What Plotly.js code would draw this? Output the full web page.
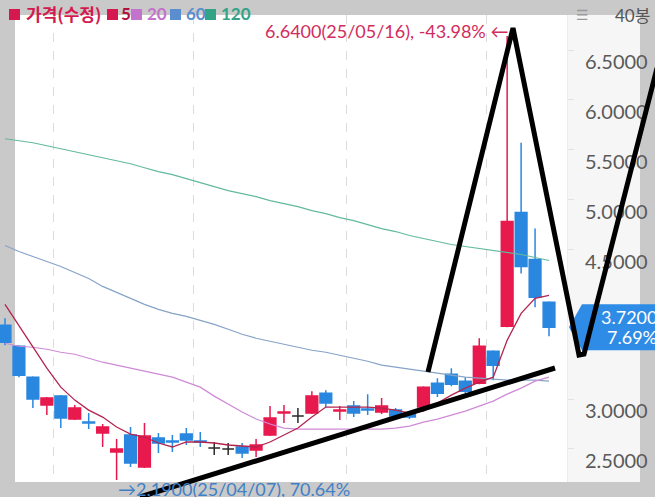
<!DOCTYPE html>
<html><head><meta charset="utf-8">
<script src="https://cdn.plot.ly/plotly-3.0.1.min.js"></script>
<style>html,body{margin:0;padding:0;background:#c9c9c9;overflow:hidden}#chart{width:655px;height:497px}</style>
</head><body><div id="chart"></div>
<script>
// ---- data ----
const dates = ['2025-03-26','2025-03-27','2025-03-28','2025-03-31','2025-04-01','2025-04-02','2025-04-03','2025-04-04','2025-04-07','2025-04-08',
  '2025-04-09','2025-04-10','2025-04-11','2025-04-14','2025-04-15','2025-04-16','2025-04-17','2025-04-21','2025-04-22','2025-04-23',
  '2025-04-24','2025-04-25','2025-04-28','2025-04-29','2025-04-30','2025-05-01','2025-05-02','2025-05-05','2025-05-06','2025-05-07',
  '2025-05-08','2025-05-09','2025-05-12','2025-05-13','2025-05-14','2025-05-15','2025-05-16','2025-05-19','2025-05-20','2025-05-21'];
const openP  = [3.74,3.53,3.22,2.94,3.03,2.80,2.77,2.66,2.47,2.64, 2.32,2.61,2.58,2.65,2.58,2.51,2.50,2.52,2.49,2.64, 2.86,2.83,2.86,3.06,2.88,2.93,2.90,2.87,2.89,2.86, 2.92,3.16,3.25,3.18,3.16,3.48,3.73,4.87,4.40,3.97];
const highP  = [3.81,3.54,3.23,3.02,3.04,2.94,2.86,2.75,2.60,2.72, 2.76,2.66,2.64,2.71,2.67,2.57,2.56,2.56,2.60,2.93, 2.94,2.91,3.08,3.09,2.93,2.98,3.05,3.01,2.91,2.88, 3.13,3.21,3.31,3.22,3.61,3.49,6.64,5.57,4.71,3.98];
const lowP   = [3.54,3.22,2.91,2.84,2.71,2.79,2.70,2.52,2.19,2.32, 2.31,2.46,2.47,2.54,2.52,2.44,2.44,2.41,2.42,2.63, 2.76,2.76,2.85,2.92,2.79,2.82,2.84,2.85,2.81,2.80, 2.91,3.02,3.13,3.06,3.15,3.19,3.72,4.26,3.92,3.63];
const closeP = [3.57,3.24,3.00,3.01,2.81,2.91,2.76,2.72,2.50,2.36, 2.63,2.56,2.57,2.59,2.57,2.51,2.50,2.46,2.54,2.81, 2.87,2.83,3.03,2.96,2.89,2.86,2.89,2.93,2.83,2.82, 3.12,3.06,3.15,3.08,3.53,3.34,4.78,4.33,4.02,3.72];
const ma5   = [3.95,3.74,3.52,3.31,3.12,2.99,2.89,2.82,2.72,2.65, 2.62,2.56,2.52,2.57,2.57,2.56,2.54,2.53,2.52,2.57, 2.64,2.71,2.82,2.92,2.92,2.92,2.92,2.91,2.89,2.86, 2.88,2.96,3.04,3.11,3.17,3.22,3.59,3.86,4.01,4.04];
const ma20  = [3.56,3.53,3.52,3.50,3.47,3.45,3.41,3.37,3.34,3.31, 3.28,3.25,3.22,3.17,3.12,3.03,2.95,2.87,2.80,2.75, 2.71,2.70,2.70,2.70,2.70,2.70,2.70,2.70,2.71,2.73, 2.77,2.80,2.84,2.88,2.93,2.98,3.05,3.11,3.18,3.22];
const ma60  = [4.54,4.48,4.43,4.38,4.33,4.27,4.21,4.13,4.07,4.01, 3.95,3.90,3.86,3.83,3.79,3.75,3.70,3.65,3.61,3.58, 3.55,3.52,3.49,3.47,3.44,3.41,3.38,3.34,3.32,3.30, 3.28,3.26,3.24,3.22,3.21,3.20,3.19,3.19,3.19,3.18];
const ma120 = [5.61,5.59,5.57,5.54,5.51,5.48,5.45,5.42,5.39,5.36, 5.32,5.28,5.25,5.21,5.17,5.13,5.09,5.06,5.03,4.99, 4.96,4.93,4.89,4.86,4.82,4.79,4.75,4.71,4.68,4.64, 4.61,4.58,4.55,4.53,4.51,4.49,4.47,4.45,4.42,4.39];
const yTickVals = [2.5, 3.0, 4.5, 5.0, 5.5, 6.0, 6.5];
const monthGrid = [3.5, 13.5, 24.5, 34.5];
const peakText = '6.6400(25/05/16), -43.98% ←';
const lowText = '→2.1900(25/04/07), 70.64%';
const lastChangeText = '7.69%';
const barCountText = '40봉';
const legendLabels = ['가격(수정)', '5', '20', '60', '120'];

// ---- layout geometry ----
const W = 655, H = 497, M = {l: 0, r: 88, t: 15, b: 15};
const PW = W - M.l - M.r, PH = H - M.t - M.b;
const xRange = [-0.358, 40.29], yRange = [2.169, 6.851];
const px = x => (x - M.l) / PW;            // pixel -> paper x
const py = y => (H - M.b - y) / PH;        // pixel -> paper y
const valToPaperY = v => (v - yRange[0]) / (yRange[1] - yRange[0]);

const FONT = "Lato, 'Noto Sans CJK KR', sans-serif";
const KFONT = "'Noto Sans CJK KR', sans-serif";
const RED = '#e8194d', BLUE = '#2a87df', BLACK = '#2a2a2a';

const idx = dates.map((d, i) => i);
const groups = {up: [], down: [], flat: []};
idx.forEach(i => {
  const k = closeP[i] > openP[i] ? 'up' : (closeP[i] < openP[i] ? 'down' : 'flat');
  groups[k].push(i);
});
function candles(ids, color) {
  return {
    type: 'candlestick', x: ids, open: ids.map(i => openP[i]), high: ids.map(i => highP[i]),
    low: ids.map(i => lowP[i]), close: ids.map(i => closeP[i]),
    text: ids.map(i => dates[i]),
    increasing: {line: {color: color, width: 1.5}, fillcolor: color},
    decreasing: {line: {color: color, width: 1.5}, fillcolor: color},
    whiskerwidth: 0, hoverinfo: 'skip', showlegend: false
  };
}
function maLine(vals, color, w) {
  return {type: 'scatter', mode: 'lines', x: idx, y: vals, line: {color: color, width: w},
          hoverinfo: 'skip', showlegend: false};
}
const data = [
  maLine(ma120, '#63b9a0', 1.2),
  maLine(ma60, '#86a3c8', 1.2),
  maLine(ma20, '#cf8ad6', 1.2),
  candles(groups.up, RED),
  candles(groups.down, BLUE),
  candles(groups.flat, BLACK),
  maLine(ma5, '#b3244f', 1.3)
];

// pen strokes drawn over the screenshot (pixel coordinates)
const penStrokes = [
  [[140, 497], [555, 368]],
  [[428, 372], [513, 28], [579, 355], [584, 354], [657, 68]]
];
const shapes = [
  {type: 'rect', xref: 'paper', yref: 'paper', x0: 1, x1: px(640), y0: 0, y1: 1,
   fillcolor: '#f6f6f6', line: {width: 0}, layer: 'below'},
  {type: 'rect', xref: 'paper', yref: 'paper', x0: 0, x1: px(15), y0: 0, y1: 1,
   fillcolor: '#c9c9c9', line: {width: 0}, layer: 'below'}
];
// legend swatches + labels
const legendStyle = [
  {sq: '#d5194f', tc: '#d5194f', sx: 9, tx: 24, f: KFONT},
  {sq: '#d5194f', tc: '#b0103c', sx: 107, tx: 119, f: FONT},
  {sq: '#c473cc', tc: '#c473cc', sx: 131, tx: 145, f: FONT},
  {sq: '#5b8ecf', tc: '#5b8ecf', sx: 170, tx: 184, f: FONT},
  {sq: '#33a388', tc: '#33a388', sx: 205, tx: 219, f: FONT}
];
const annotations = [];
legendLabels.forEach((lab, k) => {
  const st = legendStyle[k];
  shapes.push({type: 'rect', xref: 'paper', yref: 'paper', x0: px(st.sx), x1: px(st.sx + 11),
    y0: py(20), y1: py(9), fillcolor: st.sq, line: {width: 0}, layer: 'above'});
  annotations.push({xref: 'paper', yref: 'paper', x: px(st.tx), y: py(14), xanchor: 'left', yanchor: 'middle',
    text: '<b>' + lab + '</b>', showarrow: false, font: {family: st.f, size: 17, color: st.tc}});
});
// current price tag
const lastClose = closeP[closeP.length - 1];
const tagYp = valToPaperY(lastClose);
const tagHalf = 23 / PH;
shapes.push({type: 'path', xref: 'paper', yref: 'paper', layer: 'above',
  path: `M ${px(569)} ${tagYp} L ${px(582)} ${tagYp + tagHalf} L ${px(660)} ${tagYp + tagHalf} L ${px(660)} ${tagYp - tagHalf} L ${px(582)} ${tagYp - tagHalf} Z`,
  fillcolor: '#2e8ce6', line: {width: 0}});
penStrokes.forEach(s => {
  const p = s.map((pt, k) => (k ? 'L ' : 'M ') + px(pt[0]) + ' ' + py(pt[1])).join(' ');
  shapes.push({type: 'path', xref: 'paper', yref: 'paper', path: p, layer: 'above',
               line: {color: '#000', width: 5}});
});

annotations.push(
  {xref: 'paper', yref: 'paper', x: px(574), y: py(15), xanchor: 'left', yanchor: 'middle', text: '☰',
   showarrow: false, font: {family: 'DejaVu Sans', size: 14, color: '#9a9a9a'}},
  {xref: 'paper', yref: 'paper', x: px(613), y: py(15), xanchor: 'left', yanchor: 'middle', text: barCountText,
   showarrow: false, font: {family: FONT, size: 17, color: '#555'}},
  {xref: 'x', yref: 'y', x: 36, y: 6.64, xanchor: 'right', yanchor: 'middle', xshift: 3, yshift: 5,
   text: peakText, showarrow: false, font: {family: FONT, size: 18, color: '#d22c5c'}},
  {xref: 'x', yref: 'y', x: 8, y: 2.19, xanchor: 'left', yanchor: 'middle', xshift: -1, yshift: -9,
   text: lowText, showarrow: false, font: {family: FONT, size: 18, color: '#3f80c6'}},
  {xref: 'paper', yref: 'paper', x: px(659), y: tagYp + 10 / PH, xanchor: 'right', yanchor: 'middle',
   text: lastClose.toFixed(4), showarrow: false, font: {family: FONT, size: 18, color: '#fff'}},
  {xref: 'paper', yref: 'paper', x: px(659), y: tagYp - 10 / PH, xanchor: 'right', yanchor: 'middle',
   text: lastChangeText, showarrow: false, font: {family: FONT, size: 18, color: '#fff'}}
);

const layout = {
  width: W, height: H, margin: M,
  paper_bgcolor: '#c9c9c9', plot_bgcolor: '#ffffff',
  showlegend: false, boxgap: 0.16, boxgroupgap: 0, dragmode: false,
  xaxis: {range: xRange, rangeslider: {visible: false}, showticklabels: false, ticks: '',
          tickmode: 'array', tickvals: monthGrid, showgrid: true, gridcolor: '#dcdcdc', griddash: 'dash',
          gridwidth: 1, zeroline: false, showline: false, fixedrange: true},
  yaxis: {range: yRange, side: 'right', tickmode: 'array', tickvals: yTickVals, tickformat: '.4f',
          showgrid: false, zeroline: false, showline: true, linecolor: '#ececec', linewidth: 1,
          ticks: 'outside', ticklen: 6, tickcolor: '#e2e2e2', ticklabelstandoff: 7, ticklabelshift: 12,
          tickfont: {family: FONT, size: 20, color: '#5a5a5a'}, fixedrange: true},
  shapes: shapes, annotations: annotations
};
Plotly.newPlot('chart', data, layout, {displayModeBar: false, staticPlot: true});
</script>
</body></html>
